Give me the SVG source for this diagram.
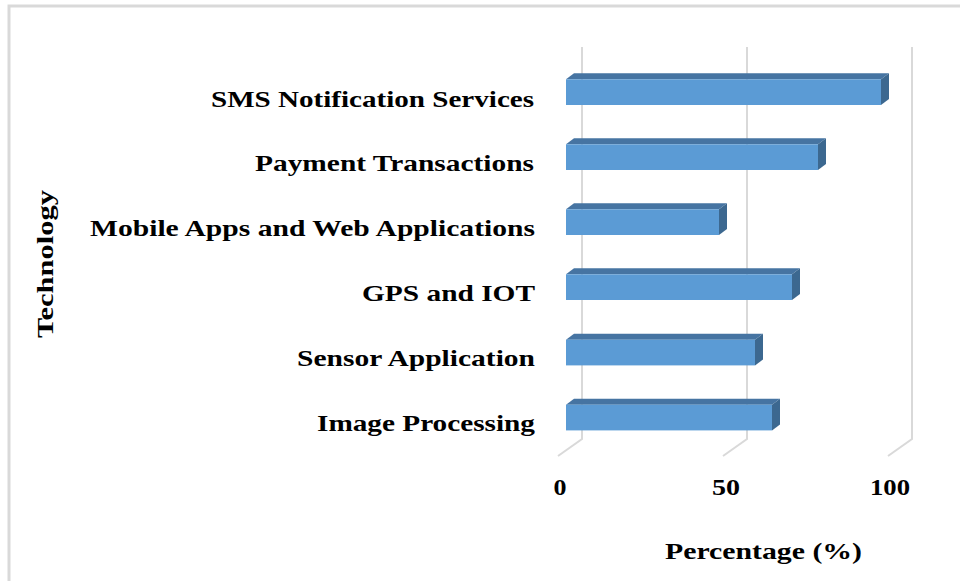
<svg xmlns="http://www.w3.org/2000/svg" width="960" height="581" viewBox="0 0 960 581">
  <style>
    .lbl { font-family: "Liberation Serif", "Times New Roman", serif; font-weight: bold; font-size: 24px; fill: #000; }
    .cat { text-anchor: end; }
    .tick { text-anchor: middle; }
    .grid { stroke: #d9d9d9; stroke-width: 2; fill: none; }
    .front { fill: #5b9bd5; }
    .top { fill: #4674a2; }
    .side { fill: #3c6890; }
  </style>
  <rect x="0" y="0" width="960" height="581" fill="#fff"/>
  <!-- chart frame -->
  <path d="M9,581 V6 H960" fill="none" stroke="#d9d9d9" stroke-width="3"/>

  <!-- back wall gridlines with floor segments -->
  <g id="gridlines">
    <path class="grid" d="M582,47 V439 L558,456"/>
    <path class="grid" d="M747,47 V439 L723,456"/>
    <path class="grid" d="M912,47 V439 L888,456"/>
  </g>

  <!-- 3D bars: front face, top face, right side -->
  <g id="bar-sms">
    <polygon class="top" points="566,79.3 574,73.3 889,73.3 881,79.3"/>
    <polygon class="side" points="881,79.3 889,73.3 889,99 881,105"/>
    <rect class="front" x="566" y="79.3" width="315" height="25.7"/>
  </g>
  <g id="bar-payment">
    <polygon class="top" points="566,144.3 574,138.3 826,138.3 818,144.3"/>
    <polygon class="side" points="818,144.3 826,138.3 826,164 818,170"/>
    <rect class="front" x="566" y="144.3" width="252" height="25.7"/>
  </g>
  <g id="bar-mobile">
    <polygon class="top" points="566,209.3 574,203.3 727,203.3 719,209.3"/>
    <polygon class="side" points="719,209.3 727,203.3 727,229 719,235"/>
    <rect class="front" x="566" y="209.3" width="153" height="25.7"/>
  </g>
  <g id="bar-gps">
    <polygon class="top" points="566,274.3 574,268.3 800,268.3 792,274.3"/>
    <polygon class="side" points="792,274.3 800,268.3 800,294 792,300"/>
    <rect class="front" x="566" y="274.3" width="226" height="25.7"/>
  </g>
  <g id="bar-sensor">
    <polygon class="top" points="566,339.7 574,333.7 763,333.7 755,339.7"/>
    <polygon class="side" points="755,339.7 763,333.7 763,359.4 755,365.4"/>
    <rect class="front" x="566" y="339.7" width="189" height="25.7"/>
  </g>
  <g id="bar-image">
    <polygon class="top" points="566,404.7 574,398.7 780,398.7 772,404.7"/>
    <polygon class="side" points="772,404.7 780,398.7 780,424.4 772,430.4"/>
    <rect class="front" x="566" y="404.7" width="206" height="25.7"/>
  </g>

  <!-- category labels (horizontally stretched type) -->
  <g id="categories">
    <text class="lbl cat" x="534" y="106.5" textLength="323" lengthAdjust="spacingAndGlyphs">SMS Notification Services</text>
    <text class="lbl cat" x="534" y="171" textLength="279" lengthAdjust="spacingAndGlyphs">Payment Transactions</text>
    <text class="lbl cat" x="535" y="236" textLength="445" lengthAdjust="spacingAndGlyphs">Mobile Apps and Web Applications</text>
    <text class="lbl cat" x="535" y="301" textLength="173" lengthAdjust="spacingAndGlyphs">GPS and IOT</text>
    <text class="lbl cat" x="535" y="366" textLength="238" lengthAdjust="spacingAndGlyphs">Sensor Application</text>
    <text class="lbl cat" x="535" y="431" textLength="218" lengthAdjust="spacingAndGlyphs">Image Processing</text>
  </g>

  <!-- value axis labels -->
  <g id="value-axis">
    <text class="lbl tick" x="560" y="495" textLength="13" lengthAdjust="spacingAndGlyphs">0</text>
    <text class="lbl tick" x="726" y="495" textLength="28" lengthAdjust="spacingAndGlyphs">50</text>
    <text class="lbl tick" x="890" y="495" textLength="40" lengthAdjust="spacingAndGlyphs">100</text>
  </g>

  <!-- axis titles -->
  <text id="x-title" class="lbl tick" x="763.5" y="559" textLength="197" lengthAdjust="spacingAndGlyphs">Percentage (%)</text>
  <text id="y-title" class="lbl tick" transform="translate(53,264) rotate(-90)" textLength="148" lengthAdjust="spacingAndGlyphs">Technology</text>
</svg>
